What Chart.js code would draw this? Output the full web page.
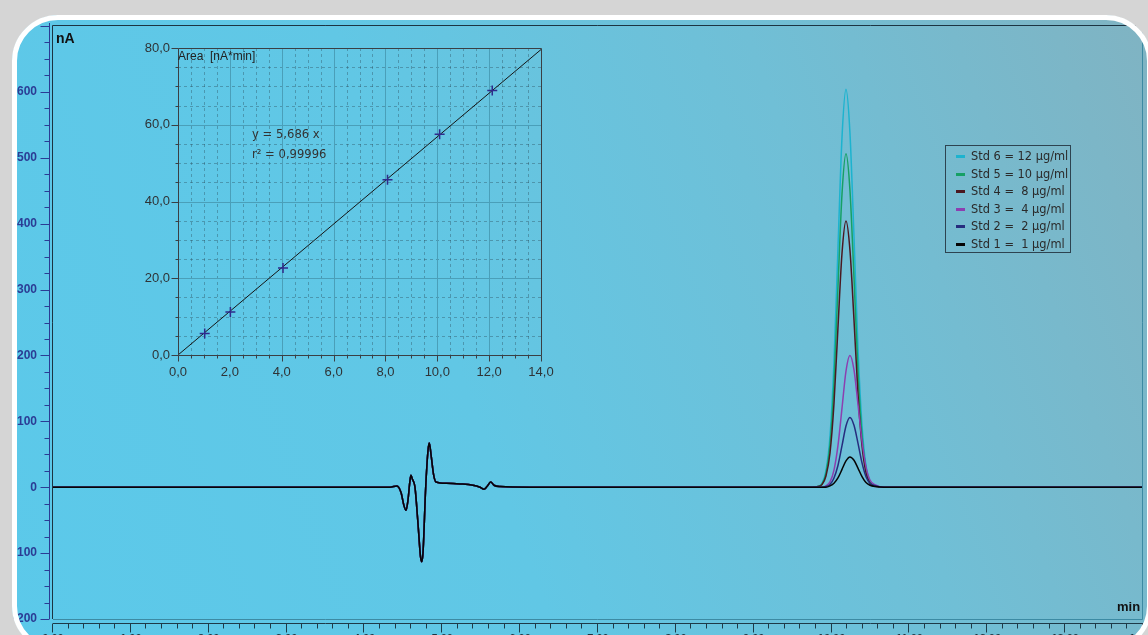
<!DOCTYPE html>
<html>
<head>
<meta charset="utf-8">
<script src="https://cdn.jsdelivr.net/npm/chart.js@4.4.1/dist/chart.umd.min.js"></script>
<style>
html, body { margin: 0; padding: 0; width: 1148px; height: 635px; overflow: hidden; background: #d5d5d5; }
#panel { position: absolute; left: 12px; top: 15px; width: 1140px; height: 637px; border-radius: 46px;
  background: linear-gradient(250deg, #80b3c2 0%, #70bfd6 30%, #61c7e5 60%, #5bc9ea 100%); }
#mainChart { position: absolute; left: 0; top: 0; }
#calChart { position: absolute; left: 130px; top: 38px; }
.txt { position: absolute; white-space: pre; font-family: "Liberation Sans", Arial, sans-serif; }
#legend { position: absolute; left: 945px; top: 145px; width: 126px; height: 108px; box-sizing: border-box;
  border: 1px solid #2d4350; padding-top: 2px; }
.row { position: relative; height: 17.6px; font: 11.4px "DejaVu Sans", sans-serif; color: #2a2a2a; white-space: pre; }
.row span.sw { position: absolute; left: 10px; top: 7px; width: 9px; height: 3px; }
.row span.t { position: absolute; left: 25px; top: 1px; }
#frame { position: absolute; left: 12px; top: 15px; width: 1140px; height: 637px; box-sizing: border-box;
  border: 5px solid #fff; border-radius: 46px; box-shadow: 0 0 0 80px #d5d5d5; pointer-events: none; }
</style>
</head>
<body>
<div id="panel"></div>
<canvas id="mainChart" width="1148" height="660"></canvas>
<canvas id="calChart" width="430" height="345"></canvas>
<div class="txt" style="left:56px; top:30px; font-weight:bold; font-size:14px; color:#111;">nA</div>
<div class="txt" style="left:1117px; top:599px; font-weight:bold; font-size:13px; color:#111;">min</div>
<div class="txt" style="left:178px; top:49px; font-size:12px; color:#222;">Area  [nA*min]</div>
<div class="txt" style="left:252px; top:127px; font:11.6px 'DejaVu Sans', sans-serif; color:#333;">y = 5,686 x</div>
<div class="txt" style="left:252px; top:147px; font:11.6px 'DejaVu Sans', sans-serif; color:#333;">r² = 0,99996</div>
<div id="legend"></div>
<div id="frame"></div>
<script>
/* ====== DATA ====== */
const runStart = 0;
const runEnd = 14;

// solvent front disturbance, same in every run (min, nA)
const frontTimes = [4.328, 4.418, 4.470, 4.508, 4.534, 4.559, 4.585, 4.598, 4.617, 4.649,
                    4.688, 4.720, 4.735, 4.752, 4.787, 4.816, 4.833, 4.855, 4.887, 4.919,
                    5.057, 5.227, 5.394, 5.484, 5.536, 5.574, 5.622, 5.664, 5.741, 6.126];
const frontSignal = [0, 2, -8, -28, -35, -20, 10, 18, 12, 0,
                     -55, -105, -113, -100, 0, 55, 67, 50, 20, 8,
                     6, 5, 3, 0, -3, 1, 8, 3, 1, 0];

// analyte peak (min)
const peakTimes = [9.748, 9.825, 9.877, 9.928, 9.980, 10.031, 10.082, 10.134, 10.185,
                   10.236, 10.288, 10.339, 10.391, 10.442, 10.493, 10.570, 10.673, 10.814];
const std6Peak = [0, 1, 6, 25, 78, 190, 362, 531, 604, 538, 380, 212, 94, 33, 9, 2, 0, 0];
const std5Peak = [0, 1, 5, 21, 65, 159, 303, 445, 506, 451, 318, 178, 79, 28, 8, 2, 0, 0];
const std4Peak = [0, 1, 4, 17, 52, 127, 242, 355, 404, 360, 254, 142, 63, 22, 6, 1, 0, 0];
const std3Peak = [0, 0, 0, 2, 8, 26, 63, 120, 176, 200, 178, 126, 70, 31, 11, 3, 0, 0];
const std2Peak = [0, 0, 0, 1, 4, 14, 33, 63, 93, 106, 94, 67, 37, 16, 6, 2, 0, 0];
const std1Peak = [0, 0, 0, 0, 2, 6, 14, 27, 40, 46, 41, 29, 16, 7, 3, 1, 0, 0];

const stdLabels = ["Std 6 = 12 µg/ml", "Std 5 = 10 µg/ml", "Std 4 =  8 µg/ml",
                   "Std 3 =  4 µg/ml", "Std 2 =  2 µg/ml", "Std 1 =  1 µg/ml"];
const stdColors = ["#1cb3cf", "#16a065", "#4a1820", "#8c3fb0", "#262d7e", "#050505"];
const stdPeaks = [std6Peak, std5Peak, std4Peak, std3Peak, std2Peak, std1Peak];

// calibration inset
const calConc = [1.03, 2.02, 4.05, 8.08, 10.09, 12.12];
const calArea = [5.6, 11.2, 22.7, 45.7, 57.5, 68.9];
const fitX = [0, 14];
const fitY = [0, 79.6];

Chart.defaults.font.family = "'Liberation Sans', Arial, sans-serif";
Chart.defaults.animation = false;

/* ====== LEGEND ====== */
const legend = document.getElementById("legend");
stdLabels.forEach((lab, i) => {
    const row = document.createElement("div");
    row.className = "row";
    row.innerHTML = '<span class="sw" style="background:' + stdColors[i] + '"></span><span class="t"></span>';
    row.querySelector(".t").textContent = lab;
    legend.appendChild(row);
});

/* ====== CHROMATOGRAM ====== */
function trace(peak) {
    const pts = [{ x: runStart, y: 0 }];
    frontTimes.forEach((t, i) => pts.push({ x: t, y: frontSignal[i] }));
    peakTimes.forEach((t, i) => pts.push({ x: t, y: peak[i] }));
    pts.push({ x: runEnd, y: 0 });
    return pts;
}

// Std 1 first so that it is drawn on top
const traces = stdLabels.map((lab, i) => ({
    label: lab,
    data: trace(stdPeaks[i]),
    borderColor: stdColors[i],
    borderWidth: 1.5,
    pointRadius: 0,
    cubicInterpolationMode: "monotone",
    fill: false
})).reverse();

const axisMarks = {
    id: "axisMarks",
    afterDraw(chart) {
        const { ctx, chartArea: a, scales: { x, y } } = chart;
        ctx.save();
        ctx.lineWidth = 1;
        // frame
        ctx.strokeStyle = "#3c8aa3";
        ctx.beginPath();
        ctx.moveTo(a.right - 0.5, a.top);
        ctx.lineTo(a.right - 0.5, a.bottom + 0.5);
        ctx.lineTo(a.left, a.bottom + 0.5);
        ctx.stroke();
        ctx.strokeStyle = "#1c3442";
        ctx.beginPath();
        ctx.moveTo(a.left - 0.5, a.bottom);
        ctx.lineTo(a.left - 0.5, a.top - 0.5);
        ctx.lineTo(a.right, a.top - 0.5);
        ctx.stroke();
        // y axis
        ctx.strokeStyle = "#2b3c94";
        const ax = a.left - 3.5;
        ctx.beginPath();
        ctx.moveTo(ax, a.top - 3);
        ctx.lineTo(ax, a.bottom);
        for (let v = y.min; v <= y.max; v += 25) {
            const py = Math.round(y.getPixelForValue(v)) + 0.5;
            const len = v % 100 === 0 ? 9 : 5;
            ctx.moveTo(ax - len, py);
            ctx.lineTo(ax, py);
        }
        ctx.stroke();
        // x axis
        ctx.strokeStyle = "#1e3a48";
        const ay = a.bottom + 4.5;
        ctx.beginPath();
        ctx.moveTo(a.left, ay);
        ctx.lineTo(a.right, ay);
        for (let i = 0; i <= 70; i++) {
            const px = Math.round(x.getPixelForValue(i * 0.2)) - 0.5;
            const len = i % 5 === 0 ? 9 : 5;
            ctx.moveTo(px, ay);
            ctx.lineTo(px, ay + len);
        }
        ctx.stroke();
        ctx.restore();
    }
};

new Chart(document.getElementById("mainChart"), {
    type: "line",
    data: { datasets: traces },
    options: {
        responsive: false,
        devicePixelRatio: 1,
        layout: { padding: { left: 0, right: 5, top: 26, bottom: 0 } },
        plugins: { legend: { display: false }, tooltip: { enabled: false } },
        scales: {
            x: {
                type: "linear",
                min: runStart,
                max: runEnd,
                grid: { display: false, drawTicks: false },
                border: { display: false },
                ticks: {
                    stepSize: 1, autoSkip: false, maxRotation: 0, padding: 13,
                    color: "#1e3340", font: { size: 11, weight: "bold" },
                    callback: v => v.toFixed(2)
                },
                afterFit: s => { s.height = 41; s.paddingLeft = 0; s.paddingRight = 0; }
            },
            y: {
                min: -200,
                max: 700,
                grid: { display: false, drawTicks: false },
                border: { display: false },
                ticks: {
                    stepSize: 100, padding: 16,
                    color: "#2b3c94", font: { size: 12, weight: "bold" },
                    callback: v => (v >= 700 ? "" : v)
                },
                afterFit: s => { s.width = 53; s.paddingTop = 0; s.paddingBottom = 0; }
            }
        }
    },
    plugins: [axisMarks]
});

/* ====== CALIBRATION INSET ====== */
const calGrid = {
    id: "calGrid",
    beforeDatasetsDraw(chart) {
        const { ctx, chartArea: a, scales: { x, y } } = chart;
        ctx.save();
        ctx.lineWidth = 1;
        ctx.strokeStyle = "rgba(40,66,80,0.36)";
        ctx.setLineDash([3, 3]);
        ctx.beginPath();
        for (let i = 1; i < 28; i++) {
            if (i % 4 === 0) continue;
            const px = Math.round(x.getPixelForValue(i * 0.5)) + 0.5;
            ctx.moveTo(px, a.top);
            ctx.lineTo(px, a.bottom);
        }
        for (let i = 1; i < 16; i++) {
            if (i % 4 === 0) continue;
            const py = Math.round(y.getPixelForValue(i * 5)) + 0.5;
            ctx.moveTo(a.left, py);
            ctx.lineTo(a.right, py);
        }
        ctx.stroke();
        ctx.setLineDash([]);
        ctx.strokeStyle = "#4a9fb9";
        ctx.beginPath();
        for (let v = 2; v < 14; v += 2) {
            const px = Math.round(x.getPixelForValue(v)) + 0.5;
            ctx.moveTo(px, a.top);
            ctx.lineTo(px, a.bottom);
        }
        for (let v = 20; v < 80; v += 20) {
            const py = Math.round(y.getPixelForValue(v)) + 0.5;
            ctx.moveTo(a.left, py);
            ctx.lineTo(a.right, py);
        }
        ctx.stroke();
        ctx.restore();
    },
    afterDraw(chart) {
        const { ctx, chartArea: a, scales: { x, y } } = chart;
        ctx.save();
        ctx.lineWidth = 1;
        ctx.strokeStyle = "#3a3f44";
        const l = Math.round(a.left) + 0.5, b = Math.round(a.bottom) + 0.5;
        const t = Math.round(a.top) + 0.5, r = Math.round(a.right) + 0.5;
        ctx.beginPath();
        ctx.moveTo(l, t); ctx.lineTo(l, b); ctx.lineTo(r, b); ctx.lineTo(r, t); ctx.lineTo(l, t);
        for (let i = 0; i <= 16; i++) {
            const py = Math.round(y.getPixelForValue(i * 5)) + 0.5;
            const len = i % 4 === 0 ? 7 : 3;
            ctx.moveTo(l - len, py); ctx.lineTo(l, py);
        }
        for (let i = 0; i <= 28; i++) {
            const px = Math.round(x.getPixelForValue(i * 0.5)) + 0.5;
            const len = i % 4 === 0 ? 6 : 3;
            ctx.moveTo(px, b); ctx.lineTo(px, b + len);
        }
        ctx.stroke();
        ctx.restore();
    }
};

new Chart(document.getElementById("calChart"), {
    type: "scatter",
    data: {
        datasets: [
            {
                label: "Standards",
                data: calConc.map((c, i) => ({ x: c, y: calArea[i] })),
                pointStyle: "cross",
                pointRadius: 5,
                borderColor: "#2f2b8c",
                borderWidth: 1.5
            },
            {
                type: "line",
                label: "Fit",
                data: fitX.map((c, i) => ({ x: c, y: fitY[i] })),
                borderColor: "#151515",
                borderWidth: 1,
                pointRadius: 0
            }
        ]
    },
    options: {
        responsive: false,
        devicePixelRatio: 1,
        layout: { padding: { left: 0, right: 19, top: 10, bottom: 0 } },
        plugins: { legend: { display: false }, tooltip: { enabled: false } },
        scales: {
            x: {
                type: "linear", min: 0, max: 14,
                grid: { display: false, drawTicks: false },
                border: { display: false },
                ticks: {
                    stepSize: 2, autoSkip: false, maxRotation: 0, padding: 10,
                    color: "#2f3336", font: { size: 13 },
                    callback: v => v.toFixed(1).replace(".", ",")
                },
                afterFit: s => { s.height = 28; s.paddingLeft = 0; s.paddingRight = 0; }
            },
            y: {
                min: 0, max: 80,
                grid: { display: false, drawTicks: false },
                border: { display: false },
                ticks: {
                    stepSize: 20, padding: 8,
                    color: "#2f3336", font: { size: 13 },
                    callback: v => v.toFixed(1).replace(".", ",")
                },
                afterFit: s => { s.width = 48; s.paddingTop = 0; s.paddingBottom = 0; }
            }
        }
    },
    plugins: [calGrid]
});
</script>
</body>
</html>
